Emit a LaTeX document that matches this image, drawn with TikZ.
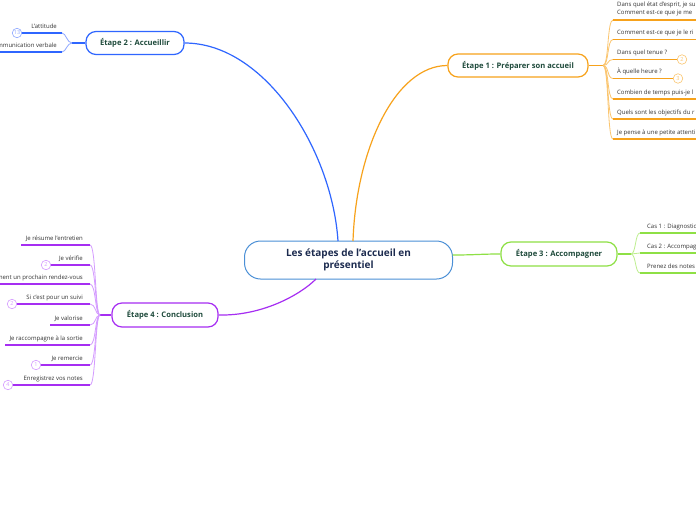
\documentclass[tikz,border=0pt]{standalone}
\usepackage{fontspec}
\setmainfont{Open Sans}
\definecolor{org}{HTML}{F7A21B}
\definecolor{orgl}{HTML}{FBC56E}
\definecolor{blu}{HTML}{2F66FF}
\definecolor{blul}{HTML}{8FA8FF}
\definecolor{grn}{HTML}{8EE045}
\definecolor{grnl}{HTML}{BDEE8E}
\definecolor{pur}{HTML}{A62EF2}
\definecolor{purl}{HTML}{D49BFF}
\definecolor{cen}{HTML}{4A8FD6}
\definecolor{navy}{HTML}{1C2B4F}
\definecolor{ttl}{HTML}{1E4A3B}
\definecolor{txt}{HTML}{333333}
\tikzset{
  mainnode/.style={draw=cen, line width=1pt, rounded corners=16pt, minimum width=208pt, minimum height=38pt,
    font=\fontsize{10}{12.5}\selectfont\bfseries, text=navy, align=center, fill=white, inner sep=0},
  stage/.style={line width=1.2pt, rounded corners=10pt, fill=white, font=\fontsize{7.6}{9}\selectfont\bfseries, text=ttl, inner sep=0},
  lbl/.style={font=\fontsize{6}{8.3}\selectfont, text=txt, inner sep=0},
  ul/.style={line width=1.5pt},
  fan/.style={line width=0.8pt},
  link/.style={line width=1.2pt},
  badge/.style={circle, draw, fill=white, line width=0.6pt, minimum size=9.5pt, inner sep=0, font=\fontsize{5.5}{6}\selectfont},
}
\begin{document}
\begin{tikzpicture}[x=1pt,y=-1pt]
\useasboundingbox[fill=white] (0,0) rectangle (696,520);

% central and stages
\node[mainnode] (c) at (348.5,260) {Les étapes de l'accueil en\\présentiel};
\node[stage, draw=org, minimum width=140pt, minimum height=23pt] (e1) at (518,65.5) {Étape 1 : Préparer son accueil};
\node[stage, draw=blu, minimum width=98pt, minimum height=23pt] (e2) at (135,43) {Étape 2 : Accueillir};
\node[stage, draw=grn, minimum width=116pt, minimum height=24pt] (e3) at (559,254) {Étape 3 : Accompagner};
\node[stage, draw=pur, minimum width=106pt, minimum height=24pt] (e4) at (165,315) {Étape 4 : Conclusion};

\coordinate (c1) at (353,241);
\coordinate (c2) at (338,241);
\coordinate (c3) at (452.5,255);
\coordinate (c4) at (316,279);
\draw[link, org] (e1.west) .. controls (395,65.5) and (356,150) .. (c1);
\draw[link, blu] (e2.east) .. controls (265,43) and (332,150) .. (c2);
\draw[link, grn] (c3) .. controls (475,255) and (480,254) .. (e3.west);
\draw[link, pur] (e4.east) .. controls (262,316) and (300,295) .. (c4);

% ---------- Etape 1 children ----------
\coordinate (h1) at (603,65.5);
\draw[link, org] (e1.east) -- (h1);
\foreach \n/\y/\e in {a/20/700, b/39.5/700, c/59.5/677, d/78.5/673, e/99/700, f/119/700, g/139/700}{
  \coordinate (p1\n) at (613,\y);
  \coordinate (q1\n) at (\e,\y);
  \draw[fan, orgl] (h1) .. controls (609,65.5) and (607,\y) .. (p1\n);
  \draw[ul, org] (p1\n) -- (q1\n);
}
\node[lbl, anchor=base west, align=left] (t1a) at (617,14.5) {Dans quel état d'esprit, je su\\Comment est-ce que je me};
\node[lbl, anchor=base west] (t1b) at (617,34.5) {Comment est-ce que je le ri};
\node[lbl, anchor=base west] (t1c) at (617,54.5) {Dans quel tenue ?};
\node[lbl, anchor=base west] (t1d) at (617,73.5) {À quelle heure ?};
\node[lbl, anchor=base west] (t1e) at (617,94) {Combien de temps puis-je l};
\node[lbl, anchor=base west] (t1f) at (617,114) {Quels sont les objectifs du r};
\node[lbl, anchor=base west] (t1g) at (617,134) {Je pense à une petite attenti};
\node[badge, draw=orgl, text=orgl] (b1c) at (682,59.5) {2};
\node[badge, draw=orgl, text=orgl] (b1d) at (678,78.5) {3};

% ---------- Etape 2 children ----------
\coordinate (h2) at (72,43);
\draw[link, blu] (e2.west) -- (h2);
\foreach \n/\y/\s in {a/33/17, b/52/-5}{
  \coordinate (p2\n) at (62,\y);
  \coordinate (q2\n) at (\s,\y);
  \draw[fan, blul] (h2) .. controls (67,43) and (66,\y) .. (p2\n);
  \draw[ul, blu] (q2\n) -- (p2\n);
}
\node[lbl, anchor=base east] (t2a) at (57,28) {L'attitude};
\node[lbl, anchor=base east] (t2b) at (57,47) {Communication verbale};
\node[badge, draw=blul, text=blul] (b2a) at (17,33) {13};

% ---------- Etape 3 children ----------
\coordinate (h3) at (631,254);
\draw[link, grn] (e3.east) -- (h3);
\foreach \n/\y in {a/233, b/253, c/273}{
  \coordinate (p3\n) at (640,\y);
  \coordinate (q3\n) at (700,\y);
  \draw[fan, grnl] (h3) .. controls (636,254) and (635,\y) .. (p3\n);
  \draw[ul, grn] (p3\n) -- (q3\n);
}
\node[lbl, anchor=base west] (t3a) at (647,228) {Cas 1 : Diagnostic};
\node[lbl, anchor=base west] (t3b) at (647,248) {Cas 2 : Accompag};
\node[lbl, anchor=base west] (t3c) at (647,268) {Prenez des notes};

% ---------- Etape 4 children ----------
\coordinate (h4) at (100,315);
\draw[link, pur] (e4.west) -- (h4);
\foreach \n/\y/\s in {a/245/21, b/265/46, c/284/-5, d/304/12, e/325/50, f/345/5, g/365/36, h/385/8}{
  \coordinate (p4\n) at (90,\y);
  \coordinate (q4\n) at (\s,\y);
  \draw[fan, purl] (h4) .. controls (95,315) and (96,\y) .. (p4\n);
  \draw[ul, pur] (q4\n) -- (p4\n);
}
\node[lbl, anchor=base east] (t4a) at (83,240) {Je résume l'entretien};
\node[lbl, anchor=base east] (t4b) at (83,260) {Je vérifie};
\node[lbl, anchor=base east] (t4c) at (83,279) {ment un prochain rendez-vous};
\node[lbl, anchor=base east] (t4d) at (83,299) {Si c'est pour un suivi};
\node[lbl, anchor=base east] (t4e) at (83,320) {Je valorise};
\node[lbl, anchor=base east] (t4f) at (83,340) {Je raccompagne à la sortie};
\node[lbl, anchor=base east] (t4g) at (83,360) {Je remercie};
\node[lbl, anchor=base east] (t4h) at (83,380) {Enregistrez vos notes};
\node[badge, draw=purl, text=purl] (b4b) at (46,265) {2};
\node[badge, draw=purl, text=purl] (b4d) at (12,304) {2};
\node[badge, draw=purl, text=purl] (b4g) at (36,365) {1};
\node[badge, draw=purl, text=purl] (b4h) at (8,385) {4};
\end{tikzpicture}
\end{document}
